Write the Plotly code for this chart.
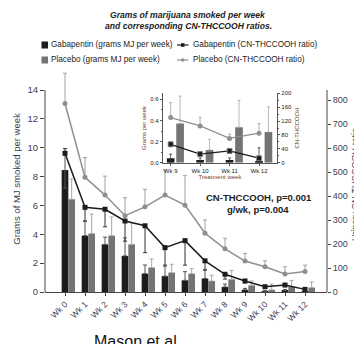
import plotly.graph_objects as go

# ---------------- data ----------------
weeks = ["Wk 0", "Wk 1", "Wk 2", "Wk 3", "Wk 4", "Wk 5", "Wk 6",
         "Wk 7", "Wk 8", "Wk 9", "Wk 10", "Wk 11", "Wk 12"]
gaba_grams = [8.45, 3.9, 3.3, 2.5, 1.27, 1.1, 0.81, 0.93, 0.35, 0.15, 0.05, 0.1, 0.04]
gaba_grams_err = [1.3, 1.0, 0.5, 1.25, 0.6, 0.7, 0.6, 0.6, 0.2, 0.1, 0.05, 0.08, 0.05]
gaba_grams_err_lo = [1.25, 0, 0, 0, 0, 0, 0, 0, 0, 0, 0, 0, 0]
plac_grams = [6.43, 4.05, 3.9, 3.3, 1.69, 1.34, 1.27, 0.76, 0.88, 0.46, 0.15, 0.38, 0.3]
plac_grams_err = [1.4, 1.35, 1.3, 1.5, 0.6, 0.58, 0.35, 0.4, 0.62, 0.3, 0.4, 0.42, 0.4]

gaba_ratio = [578, 353, 345, 296, 276, 185, 214, 130, 74, 46, 22, 29, 11]
gaba_ratio_err_up = [20, 0, 0, 0, 0, 0, 0, 0, 0, 0, 0, 0, 0]
gaba_ratio_err_lo = [0, 57, 73, 84, 112, 73, 102, 38, 20, 8, 6, 6, 5]
plac_ratio = [786, 478, 404, 318, 355, 404, 362, 245, 180, 129, 105, 75, 85]
plac_ratio_err = [126, 82, 79, 75, 73, 104, 123, 55, 44, 32, 25, 30, 27]

inset_weeks = ["Wk 9", "Wk 10", "Wk 11", "Wk 12"]
inset_gaba_grams = [0.041, 0.025, 0.025, 0.015]
inset_gaba_grams_err = [0.04, 0.02, 0.02, 0.01]
inset_plac_grams = [0.37, 0.12, 0.335, 0.29]
inset_plac_grams_err = [0.26, 0.10, 0.255, 0.24]
inset_gaba_ratio = [53, 25, 34, 13]
inset_gaba_ratio_err = [6, 6, 6, 30]
inset_plac_ratio = [130, 106, 70, 85]
inset_plac_ratio_err = [43, 25, 12, 28]

# ---------------- layout helpers ----------------
VW, VH = 362, 344          # browser window
OFF = 8                    # default page margin of the html body
W, H = VW - OFF, VH - OFF  # figure size so that it ends at the window edge
L, R, B = 45, 327, 292     # plot area edges in window px
T0 = 66                    # top of drawing area (room for the tall error bar)
T_AX = 90                  # visual top of the main axes (y=14 / ~842)
Y1_MAX = 14 * (B - T0) / (B - T_AX)
Y2_MAX = 842 * (B - T0) / (B - T_AX)


def px(x):
    return (x - L) / (R - L)


def py(y):
    return (B - y) / (B - T0)


FONT = "Arial, Liberation Sans, sans-serif"
BLACK = "#1c1c1c"
GRAY = "#747474"
LGRAY = "#8f8f8f"
TXT = "#222222"
TICK = "#3c3c55"
INSET_TXT = "#7a3b2e"
AXC = "#444444"

xi = list(range(len(weeks)))
xi_g = [i + 0.333 for i in xi]
ii = list(range(len(inset_weeks)))
ii_g = [i + 0.32 for i in ii]

fig = go.Figure()

# main bars
fig.add_trace(go.Bar(x=xi, y=gaba_grams, width=0.333, marker_color=BLACK,
                     marker_line_width=0, xaxis="x", yaxis="y",
                     error_y=dict(type="data", array=gaba_grams_err,
                                  arrayminus=gaba_grams_err_lo, symmetric=False,
                                  color="#555555", thickness=1, width=2),
                     showlegend=False))
fig.add_trace(go.Bar(x=xi_g, y=plac_grams, width=0.333, marker_color=GRAY,
                     marker_line_width=0, xaxis="x", yaxis="y",
                     error_y=dict(type="data", array=plac_grams_err,
                                  arrayminus=[0] * len(plac_grams), symmetric=False,
                                  color="#a8a8a8", thickness=1, width=2),
                     showlegend=False))
# main lines
fig.add_trace(go.Scatter(x=xi, y=plac_ratio, mode="lines+markers",
                         line=dict(color=LGRAY, width=1.5),
                         marker=dict(symbol="circle", size=5, color=LGRAY),
                         error_y=dict(type="data", array=plac_ratio_err,
                                      arrayminus=[0] * len(plac_ratio), symmetric=False,
                                      color="#a0a0a0", thickness=1, width=2),
                         xaxis="x", yaxis="y2", showlegend=False))
fig.add_trace(go.Scatter(x=xi, y=gaba_ratio, mode="lines+markers",
                         line=dict(color=BLACK, width=1.5),
                         marker=dict(symbol="square", size=5, color=BLACK),
                         error_y=dict(type="data", array=gaba_ratio_err_up,
                                      arrayminus=gaba_ratio_err_lo, symmetric=False,
                                      color="#333333", thickness=1, width=2),
                         xaxis="x", yaxis="y2", showlegend=False))

# inset bars
fig.add_trace(go.Bar(x=ii, y=inset_gaba_grams, width=0.26, marker_color=BLACK,
                     marker_line_width=0, xaxis="x2", yaxis="y3",
                     error_y=dict(type="data", array=inset_gaba_grams_err,
                                  symmetric=True, color="#333333", thickness=0.8, width=1.5),
                     showlegend=False))
fig.add_trace(go.Bar(x=ii_g, y=inset_plac_grams, width=0.26, marker_color=GRAY,
                     marker_line_width=0, xaxis="x2", yaxis="y3",
                     error_y=dict(type="data", array=inset_plac_grams_err,
                                  arrayminus=[0] * 4, symmetric=False,
                                  color="#a8a8a8", thickness=0.8, width=1.5),
                     showlegend=False))
fig.add_trace(go.Scatter(x=ii, y=inset_plac_ratio, mode="lines+markers",
                         line=dict(color=LGRAY, width=1.2),
                         marker=dict(symbol="circle", size=5, color=LGRAY),
                         error_y=dict(type="data", array=inset_plac_ratio_err,
                                      arrayminus=[0] * 4, symmetric=False,
                                      color="#a0a0a0", thickness=0.8, width=1.5),
                         xaxis="x2", yaxis="y4", showlegend=False))
fig.add_trace(go.Scatter(x=ii, y=inset_gaba_ratio, mode="lines+markers",
                         line=dict(color=BLACK, width=1.2),
                         marker=dict(symbol="square", size=5, color=BLACK,
                                     line=dict(color="#888888", width=0.8)),
                         error_y=dict(type="data", array=inset_gaba_ratio_err,
                                      symmetric=True, color="#333333", thickness=0.8, width=1.5),
                         xaxis="x2", yaxis="y4", showlegend=False))

# ---------------- axes ----------------
inset_x = [px(163.3), px(276.7)]
inset_y = [py(162.7), py(93.3)]

fig.update_layout(
    width=W, height=H,
    margin=dict(l=L - OFF, r=VW - R, t=T0 - OFF, b=VH - B, pad=0),
    paper_bgcolor="white", plot_bgcolor="rgba(0,0,0,0)",
    font=dict(family=FONT, color=TXT, size=9),
    barmode="overlay",
    xaxis=dict(range=[-1.0, 13.1], tickvals=xi, ticktext=weeks, tickangle=-45,
               showgrid=False, zeroline=False, showline=True, linecolor=AXC,
               linewidth=1, ticks="outside", ticklen=3, tickcolor=AXC,
               tickfont=dict(size=8.5, color=TICK), automargin=False),
    yaxis=dict(range=[0, Y1_MAX], tickvals=list(range(0, 15, 2)), showgrid=False,
               zeroline=False, showline=False,
               ticks="outside", ticklen=4, tickcolor=AXC,
               tickfont=dict(size=9.5, color=TICK), automargin=False,
               title=dict(text="Grams of MJ smoked per week", font=dict(size=9.5, color=TICK),
                          standoff=5)),
    yaxis2=dict(range=[0, Y2_MAX], tickvals=list(range(0, 801, 100)), overlaying="y",
                side="right", showgrid=False, zeroline=False, showline=False,
                ticks="outside", ticklen=3, automargin=False,
                tickcolor=AXC, tickfont=dict(size=9, color=TICK)),
    xaxis2=dict(domain=inset_x, anchor="y3", range=[-0.25, 3.6], tickvals=ii,
                ticktext=inset_weeks, showgrid=False, zeroline=False, showline=True,
                linecolor="#555", linewidth=0.8, ticks="outside", ticklen=2,
                tickcolor="#555", tickfont=dict(size=6, color=TXT), automargin=False,
                title=dict(text="Treatment week", font=dict(size=6, color=INSET_TXT),
                           standoff=1)),
    yaxis3=dict(domain=inset_y, anchor="x2", range=[0, 0.657],
                tickvals=[0, 0.2, 0.4, 0.6], ticktext=["0.0", "0.2", "0.4", "0.6"],
                minor=dict(dtick=0.1, ticks="outside", ticklen=1.5, tickcolor="#555"),
                showgrid=False, zeroline=False, showline=True, linecolor="#555",
                linewidth=0.8, ticks="outside", ticklen=2.5, tickcolor="#555",
                tickfont=dict(size=6, color=TXT), automargin=False,
                title=dict(text="Grams per week", font=dict(size=6, color=INSET_TXT),
                           standoff=3)),
    yaxis4=dict(domain=inset_y, anchor="x2", overlaying="y3", side="right",
                range=[0, 200], tickvals=list(range(0, 201, 40)),
                minor=dict(dtick=20, ticks="outside", ticklen=1.5, tickcolor="#555"),
                showgrid=False, zeroline=False, showline=True, linecolor="#555",
                linewidth=0.8, ticks="outside", ticklen=2.5, tickcolor="#555",
                tickfont=dict(size=6, color=TXT), automargin=False,
                title=dict(text="CN-THCCOOH", font=dict(size=6, color="#5a3a2a"),
                           standoff=3)),
)

# ---------------- texts ----------------
ann = []
ann.append(dict(x=px(188), y=py(15), xref="paper", yref="paper",
                text="<b><i>Grams of marijuana smoked per week</i></b>",
                showarrow=False, font=dict(size=8.6, color=TXT), xanchor="center",
                yanchor="middle"))
ann.append(dict(x=px(188), y=py(25.5), xref="paper", yref="paper",
                text="<b><i>and corresponding CN-THCCOOH ratios.</i></b>",
                showarrow=False, font=dict(size=8.6, color=TXT), xanchor="center",
                yanchor="middle"))

legend_items = [
    (49, 45, "Gabapentin (grams MJ per week)"),
    (191, 45, "Gabapentin (CN-THCCOOH ratio)"),
    (49, 60, "Placebo (grams MJ per week)"),
    (191, 60, "Placebo (CN-THCCOOH ratio)"),
]
for x0, y0, t in legend_items:
    ann.append(dict(x=px(x0), y=py(y0), xref="paper", yref="paper", text=t,
                    showarrow=False, font=dict(size=8.2, color=TXT), xanchor="left",
                    yanchor="middle"))

ann.append(dict(x=px(355), y=py(185), xref="paper", yref="paper",
                text="Urinary CN-THCCOOH ratio", textangle=-90, showarrow=False,
                font=dict(size=9, color=TICK), xanchor="center", yanchor="middle"))
ann.append(dict(x=px(259), y=py(197), xref="paper", yref="paper",
                text="<b>CN-THCCOOH, p=0.001</b>", showarrow=False,
                font=dict(size=9.5, color=TXT), xanchor="center", yanchor="middle"))
ann.append(dict(x=px(258), y=py(209), xref="paper", yref="paper",
                text="<b>g/wk, p=0.004</b>", showarrow=False,
                font=dict(size=9.5, color=TXT), xanchor="center", yanchor="middle"))
ann.append(dict(x=px(137), y=py(331), xref="paper", yref="paper",
                text="Mason et al.", showarrow=False,
                font=dict(size=16, color="#111"), xanchor="center", yanchor="top"))
fig.update_layout(annotations=ann)

# axis lines + legend glyphs
shapes = [
    dict(type="line", xref="paper", yref="y", x0=0, x1=0, y0=0, y1=14,
         line=dict(color=AXC, width=1)),
    dict(type="line", xref="paper", yref="y", x0=1, x1=1, y0=0, y1=14,
         line=dict(color=AXC, width=1)),
    dict(type="rect", xref="paper", yref="paper", x0=px(41.5), x1=px(48),
         y0=py(48.5), y1=py(41.5), fillcolor=BLACK, line=dict(width=0)),
    dict(type="rect", xref="paper", yref="paper", x0=px(41.5), x1=px(48),
         y0=py(63.5), y1=py(56.5), fillcolor=GRAY, line=dict(width=0)),
    dict(type="line", xref="paper", yref="paper", x0=px(177), x1=px(188.5),
         y0=py(45), y1=py(45), line=dict(color=BLACK, width=1.2)),
    dict(type="rect", xref="paper", yref="paper", x0=px(181), x1=px(184.5),
         y0=py(46.8), y1=py(43.2), fillcolor=BLACK, line=dict(width=0)),
    dict(type="line", xref="paper", yref="paper", x0=px(177), x1=px(188.5),
         y0=py(60), y1=py(60), line=dict(color=LGRAY, width=1.2)),
    dict(type="circle", xref="paper", yref="paper", x0=px(181), x1=px(184.5),
         y0=py(61.8), y1=py(58.2), fillcolor=LGRAY, line=dict(width=0)),
]
fig.update_layout(shapes=shapes)

fig.write_html("out.html", config={"displayModeBar": False})
